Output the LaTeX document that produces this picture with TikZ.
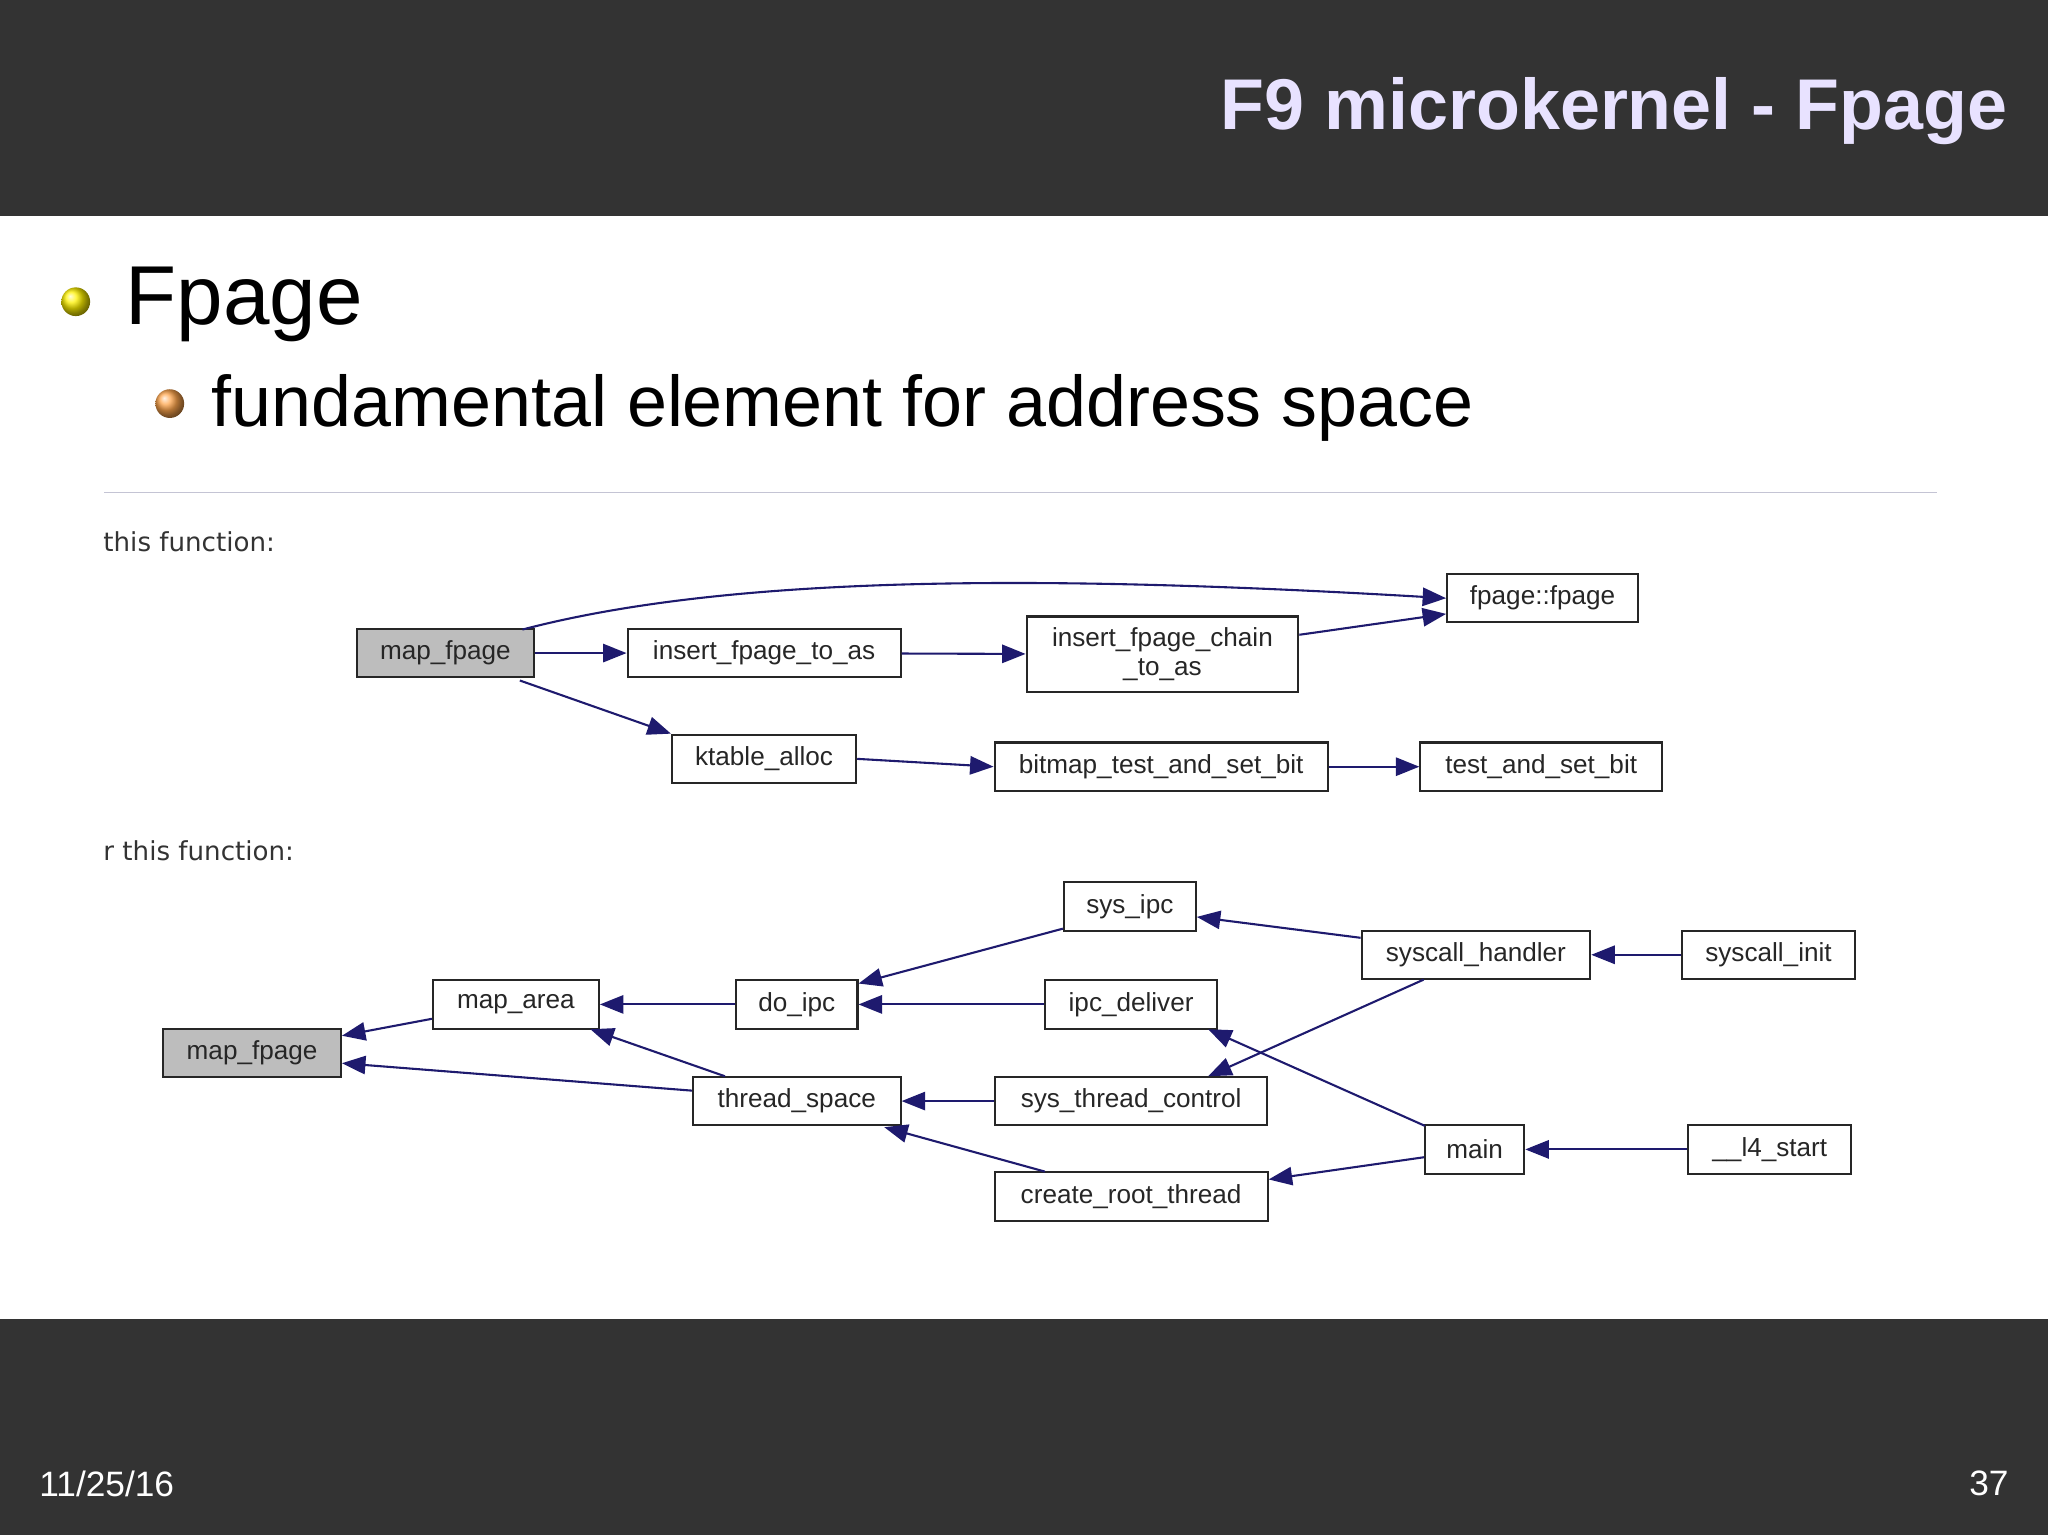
\documentclass[tikz,border=0pt]{standalone}
\usepackage{fontspec}
\setmainfont{Liberation Sans}
\newfontfamily\lblfont{DejaVu Sans}
\usetikzlibrary{arrows.meta}
\definecolor{band}{HTML}{333333}
\definecolor{ttl}{HTML}{E8E2FF}
\definecolor{edg}{HTML}{1E1A6E}
\definecolor{gfill}{HTML}{BDBDBD}
\tikzset{
  x=1pt,y=-1pt,
  fn/.style={draw=black!85,line width=1.6pt,inner sep=0pt,font=\fontsize{20}{22}\selectfont,text=black!85,minimum height=37pt},
  root/.style={fn,fill=gfill},
  ed/.style={draw=edg,line width=1.6pt,-{Triangle[length=18pt,width=14pt]}},
  lbl/.style={font=\lblfont\fontsize{20}{24}\selectfont,text=black!80,anchor=west,inner sep=0pt}
}
\begin{document}
\begin{tikzpicture}
\useasboundingbox (0,0) rectangle (1568,1175);
\fill[white] (0,0) rectangle (1568,1175);
\fill[band] (0,0) rectangle (1568,165);
\fill[band] (0,1010) rectangle (1568,1175);
\node[anchor=east,text=ttl,font=\bfseries\fontsize{55}{62}\selectfont,inner sep=0pt] (title) at (1537,85) {F9 microkernel - Fpage};
\shade[ball color=yellow!90!orange] (58,231) circle (11);
\shade[ball color=orange!70] (130,309) circle (11);
\node[anchor=west,inner sep=0pt,font=\fontsize{64}{70}\selectfont] (b1) at (96,233) {Fpage};
\node[anchor=west,inner sep=0pt,font=\fontsize{55}{60}\selectfont] (b2) at (162,312) {fundamental element for address space};
\draw[blue!15!gray!40,line width=1pt] (80,377) -- (1483,377);
\node[lbl] (l1) at (79,415) {this function:};
\node[lbl] (l2) at (79,651) {r this function:};
% top graph
\node[root,minimum width=136pt] (a1) at (341,500) {map\_fpage};
\node[fn,minimum width=209pt] (a2) at (585,500) {insert\_fpage\_to\_as};
\node[fn,minimum width=208pt,minimum height=58pt,align=center] (a3) at (890,501) {insert\_fpage\_chain\\\_to\_as};
\node[fn,minimum width=146pt] (a4) at (1181,458) {fpage::fpage};
\node[fn,minimum width=141pt] (a5) at (585,581) {ktable\_alloc};
\node[fn,minimum width=255pt] (a6) at (889,587) {bitmap\_test\_and\_set\_bit};
\node[fn,minimum width=185pt] (a7) at (1180,587) {test\_and\_set\_bit};
\draw[ed] (400,482) .. controls (560,440) and (800,440) .. (a4.west);
\draw[ed] (a1) -- (a2);
\draw[ed] (a2) -- (a3);
\draw[ed] (a3.east|-0,486) -- (a4.west|-0,470);
\draw[ed] (398,521) -- (a5.north west);
\draw[ed] (a5.east) -- (a6.west);
\draw[ed] (a6) -- (a7);
% bottom graph
\node[fn,minimum width=101pt] (s1) at (865,694) {sys\_ipc};
\node[fn,minimum width=175pt] (s2) at (1130,731) {syscall\_handler};
\node[fn,minimum width=132pt] (s3) at (1354,731) {syscall\_init};
\node[fn,minimum width=127pt] (m1) at (395,769) {map\_area};
\node[fn,minimum width=93pt] (d1) at (610,769) {do\_ipc};
\node[fn,minimum width=132pt] (i1) at (866,769) {ipc\_deliver};
\node[root,minimum width=136pt] (r1) at (193,806) {map\_fpage};
\node[fn,minimum width=159pt] (t1) at (610,843) {thread\_space};
\node[fn,minimum width=208pt] (c1) at (866,843) {sys\_thread\_control};
\node[fn,minimum width=76pt] (mn) at (1129,880) {main};
\node[fn,minimum width=125pt] (l4) at (1355,880) {\_\_l4\_start};
\node[fn,minimum width=209pt] (cr) at (866,916) {create\_root\_thread};
\draw[ed] (s3) -- (s2);
\draw[ed] (s2.west|-0,718) -- (s1.east|-0,702);
\draw[ed] (s1.west|-0,711) -- (d1.east|-0,753);
\draw[ed] (i1) -- (d1);
\draw[ed] (d1) -- (m1);
\draw[ed] (m1.west|-0,780) -- (r1.east|-0,793);
\draw[ed] (t1.west|-0,835) -- (r1.east|-0,814);
\draw[ed] (555,824) -- (452,788);
\draw[ed] (1090,750) -- (925,824);
\draw[ed] (1091,862) -- (925,788);
\draw[ed] (c1) -- (t1);
\draw[ed] (800,897) -- (677,863);
\draw[ed] (mn.west|-0,886) -- (cr.east|-0,903);
\draw[ed] (l4) -- (mn);
% footer
\node[anchor=west,text=white,font=\fontsize{27}{30}\selectfont,inner sep=0pt] (dt) at (30,1136) {11/25/16};
\node[anchor=east,text=white,font=\fontsize{27}{30}\selectfont,inner sep=0pt] (pg) at (1538,1136) {37};
\end{tikzpicture}
\end{document}
